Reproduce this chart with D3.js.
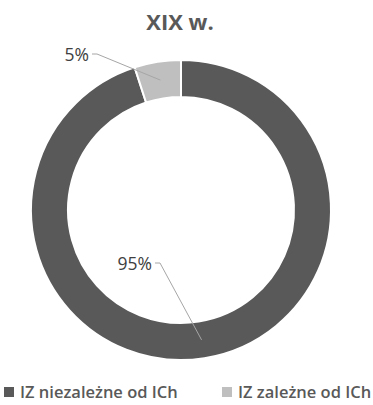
<!DOCTYPE html>
<html><head><meta charset="utf-8">
<script src="https://cdn.jsdelivr.net/npm/d3@7"></script>
<style>body{margin:0;background:#fff}svg{display:block}</style>
</head><body>
<svg id="c" width="373" height="405"></svg>
<script>
const title = "XIX w.";
const categories = ["IZ niezależne od ICh", "IZ zależne od ICh"];
const values = [95, 5];
const labels = ["95%", "5%"];
const colors = ["#595959", "#bfbfbf"];

const svg = d3.select("#c");
const cx = 181, cy = 210, R = 150, r = 113;
const font = "'Open Sans', sans-serif";

svg.append("text").attr("x", 180).attr("y", 30).attr("text-anchor", "middle")
  .attr("font-family", font).attr("font-weight", "bold").attr("font-size", 22)
  .attr("fill", "#595959").text(title);

const pie = d3.pie().sort(null).value(d => d)(values);
const arc = d3.arc().innerRadius(r).outerRadius(R);
const mid = d3.arc().innerRadius((R + r) / 2).outerRadius((R + r) / 2);
const g = svg.append("g").attr("transform", `translate(${cx},${cy})`);
g.selectAll("path.s").data(pie).join("path").attr("class", "s")
  .attr("d", arc).attr("fill", (d, i) => colors[i])
  .attr("stroke", "#fff").attr("stroke-width", 2);

// labels with leader lines
const labelPos = [[-26, 53], [-89, -156]];
labelPos.forEach((p, i) => {
  const c = mid.centroid(pie[i]);
  const lx = p[0], ly = p[1];
  g.append("path").attr("d", `M${c[0]},${c[1]}L${lx + 5},${ly}L${lx},${ly}`)
    .attr("fill", "none").attr("stroke", "#a6a6a6").attr("stroke-width", 1);
  g.append("text").attr("x", lx - 3).attr("y", ly + 7).attr("text-anchor", "end")
    .attr("font-family", font).attr("font-size", 17.5).attr("fill", "#404040").text(labels[i]);
});

// legend
const leg = svg.append("g");
const legX = [4, 222];
categories.forEach((c, i) => {
  leg.append("rect").attr("x", legX[i]).attr("y", 387).attr("width", 10).attr("height", 10).attr("fill", colors[i]);
  leg.append("text").attr("x", legX[i] + 16).attr("y", 397.5)
    .attr("font-family", font).attr("font-size", 16.5).attr("font-weight", 600).attr("fill", "#595959").text(c);
});
</script>
</body></html>
